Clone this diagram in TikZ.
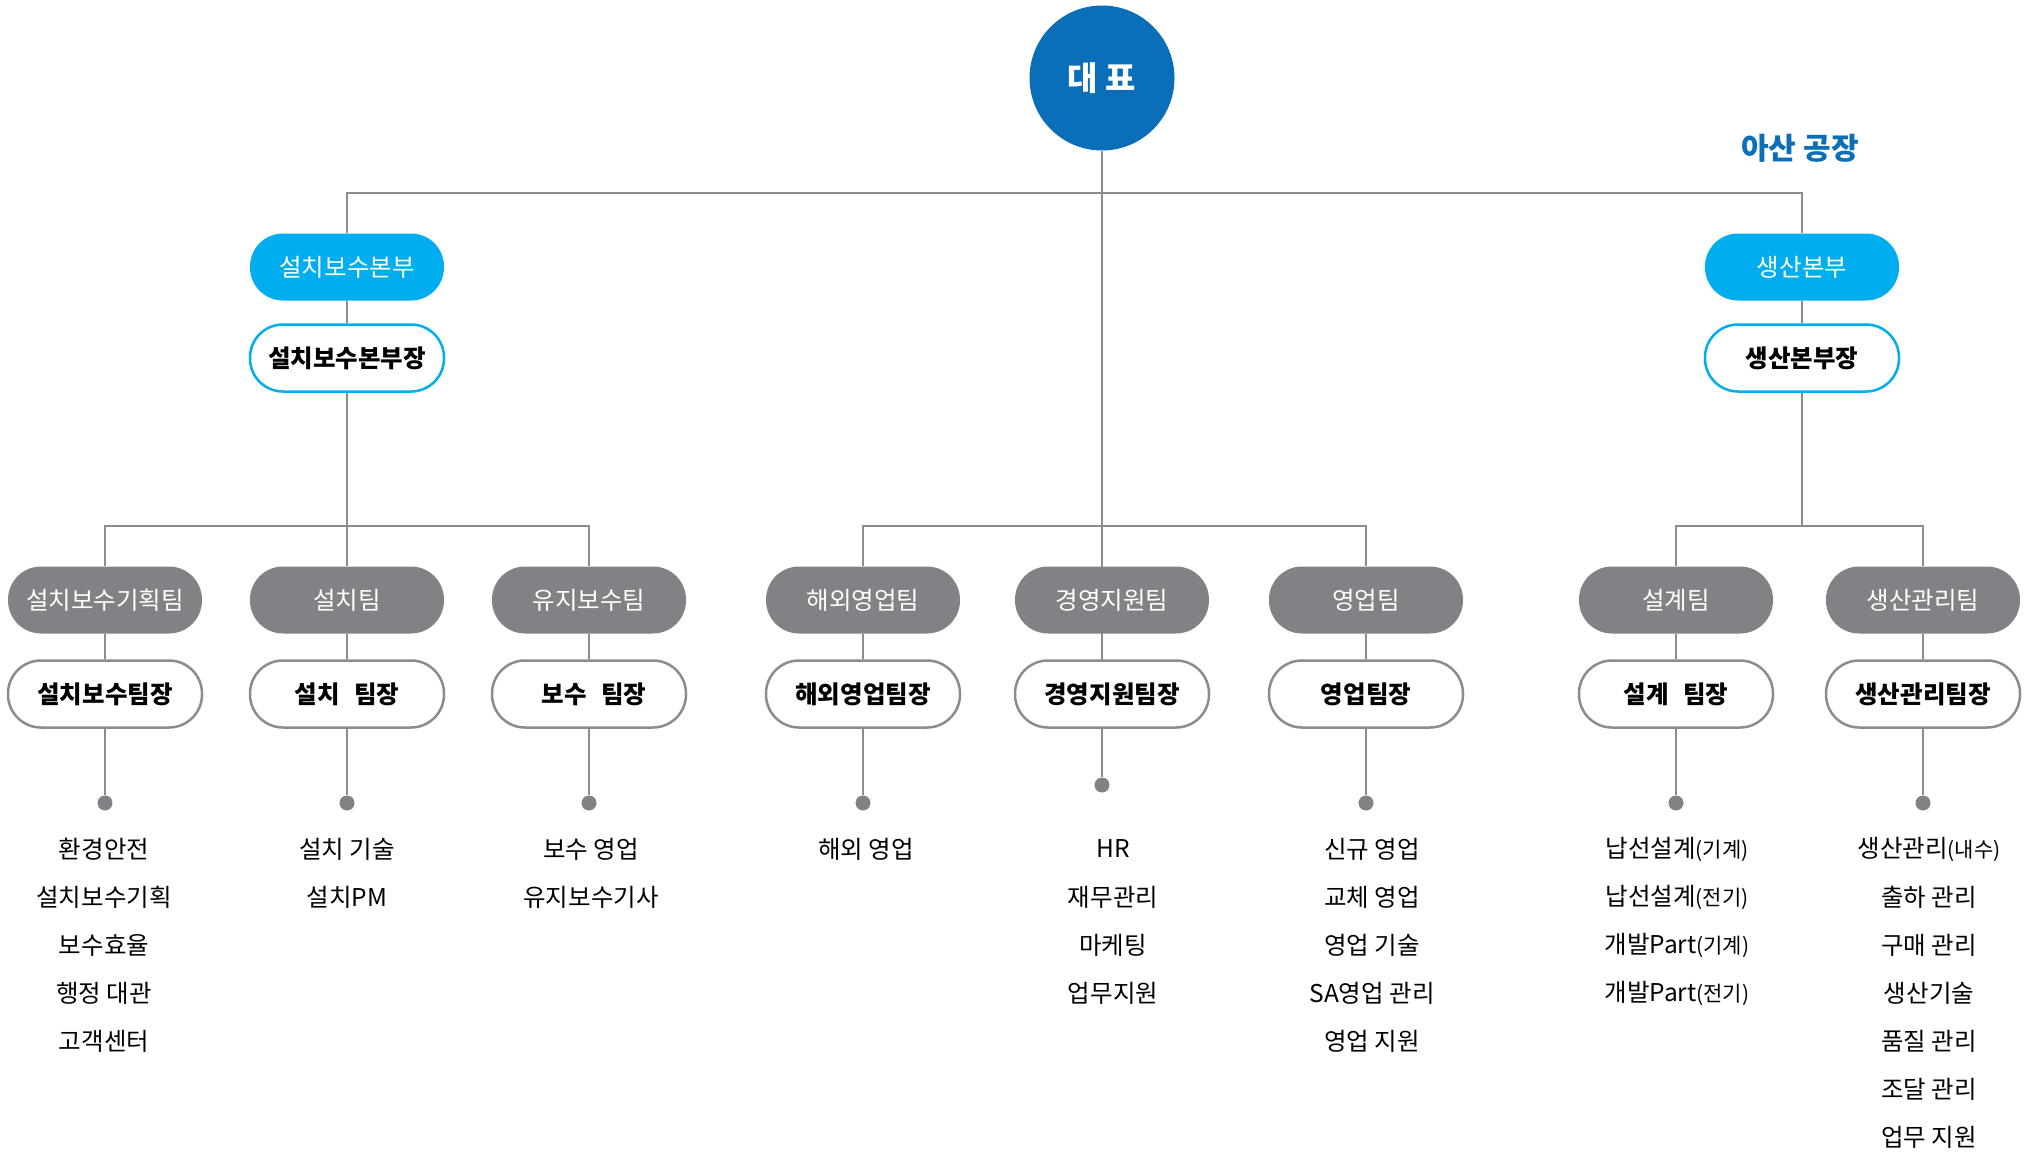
\documentclass[tikz,border=0pt]{standalone}
\usepackage{fontspec}
\setmainfont{Noto Sans CJK KR}
\usetikzlibrary{backgrounds}
\definecolor{ceoblue}{HTML}{0A6EB9}
\definecolor{divcyan}{HTML}{00AEEF}
\definecolor{teamgray}{HTML}{808285}
\definecolor{wiregray}{HTML}{8C8C8C}
\newcommand{\subpart}[1]{{\fontsize{21}{22}\selectfont(#1)}}

\begin{document}
\begin{tikzpicture}[x=1pt,y=-1pt,%,cap=round,>=latex]
  pill/.style={rectangle,rounded corners=33pt,minimum width=194pt,minimum height=67pt,inner sep=0pt,font=\fontsize{24.5}{28}\selectfont},
  division/.style={pill,fill=divcyan,text=white},
  divhead/.style={pill,draw=divcyan,line width=2.5pt,fill=white,font=\fontsize{24.5}{28}\selectfont\bfseries},
  team/.style={pill,fill=teamgray,text=white},
  leader/.style={pill,draw=wiregray,line width=2.5pt,fill=white,font=\fontsize{24.5}{28}\selectfont\bfseries},
  wire/.style={draw=wiregray,line width=2pt},
  dot/.style={circle,fill=teamgray,inner sep=0pt,minimum size=15pt},
  duty/.style={font=\fontsize{24.5}{28}\selectfont}]
\useasboundingbox (0,0) rectangle (2030,1153);
\node [circle,fill=ceoblue,text=white,minimum size=145pt,font=\fontsize{33}{36}\selectfont\bfseries] (ceo) at (1102,78) {대 표};
\node [text=ceoblue,font=\fontsize{30}{34}\selectfont\bfseries] (asan) at (1800,148) {아산 공장};
\coordinate (top) at (1102,193);
\node [division] (div1) at (347,267) {설치보수본부};
\node [divhead] (head1) at (347,358) {설치보수본부장};
\node [division] (div2) at (1802,267) {생산본부};
\node [divhead] (head2) at (1802,358) {생산본부장};
\coordinate (bar1) at (347,526);
\coordinate (bar2) at (1102,526);
\coordinate (bar3) at (1802,526);
% teams
\node [team] (t1) at (105,600) {설치보수기획팀};
\node [team] (t2) at (347,600) {설치팀};
\node [team] (t3) at (589,600) {유지보수팀};
\node [team] (t4) at (863,600) {해외영업팀};
\node [team] (t5) at (1112,600) {경영지원팀};
\node [team] (t6) at (1366,600) {영업팀};
\node [team] (t7) at (1676,600) {설계팀};
\node [team] (t8) at (1923,600) {생산관리팀};
% leaders
\node [leader] (l1) at (105,694) {설치보수팀장};
\node [leader] (l2) at (347,694) {설치\hspace{0.6em}팀장};
\node [leader] (l3) at (589,694) {\hspace{0.4em}보수\hspace{0.6em}팀장};
\node [leader] (l4) at (863,694) {해외영업팀장};
\node [leader] (l5) at (1112,694) {경영지원팀장};
\node [leader] (l6) at (1366,694) {영업팀장};
\node [leader] (l7) at (1676,694) {설계\hspace{0.6em}팀장};
\node [leader] (l8) at (1923,694) {생산관리팀장};
% dots
\node [dot] (p1) at (105,803) {};
\node [dot] (p2) at (347,803) {};
\node [dot] (p3) at (589,803) {};
\node [dot] (p4) at (863,803) {};
\node [dot] (p5) at (1102,785) {};
\node [dot] (p6) at (1366,803) {};
\node [dot] (p7) at (1676,803) {};
\node [dot] (p8) at (1923,803) {};
% duties
\foreach \txt [count=\i] in {환경안전,설치보수기획,보수효율,행정 대관,고객센터}
  \node [duty] (d1-\i) at (104,801+48*\i) {\txt};
\foreach \txt [count=\i] in {설치 기술,설치PM}
  \node [duty] (d2-\i) at (347,801+48*\i) {\txt};
\foreach \txt [count=\i] in {보수 영업,유지보수기사}
  \node [duty] (d3-\i) at (591,801+48*\i) {\txt};
\foreach \txt [count=\i] in {해외 영업}
  \node [duty] (d4-\i) at (866,801+48*\i) {\txt};
\foreach \txt [count=\i] in {HR,재무관리,마케팅,업무지원}
  \node [duty] (d5-\i) at (1113,801+48*\i) {\txt};
\foreach \txt [count=\i] in {신규 영업,교체 영업,영업 기술,SA영업 관리,영업 지원}
  \node [duty] (d6-\i) at (1372,801+48*\i) {\txt};
\foreach \txt [count=\i] in {납선설계\subpart{기계},납선설계\subpart{전기},개발Part\subpart{기계},개발Part\subpart{전기}}
  \node [duty] (d7-\i) at (1677,801+48*\i) {\txt};
\foreach \txt [count=\i] in {생산관리\subpart{내수},출하 관리,구매 관리,생산기술,품질 관리,조달 관리,업무 지원}
  \node [duty] (d8-\i) at (1929,801+48*\i) {\txt};
% wires
\begin{scope}[on background layer]
\draw [wire] (ceo) -- (p5);
\draw [wire] (div1) |- (top) -| (div2);
\draw [wire] (div1) -- (head1) -- (bar1);
\draw [wire] (div2) -- (head2) -- (bar3);
\draw [wire] (t1) |- (bar1) -| (t3);
\draw [wire] (bar1) -- (t2);
\draw [wire] (t4) |- (bar2) -| (t6);
\draw [wire] (t7) |- (bar3) -| (t8);
\foreach \k in {1,2,3,4,6,7,8}
  \draw [wire] (t\k) -- (l\k) -- (p\k);
\end{scope}
\end{tikzpicture}
\end{document}
